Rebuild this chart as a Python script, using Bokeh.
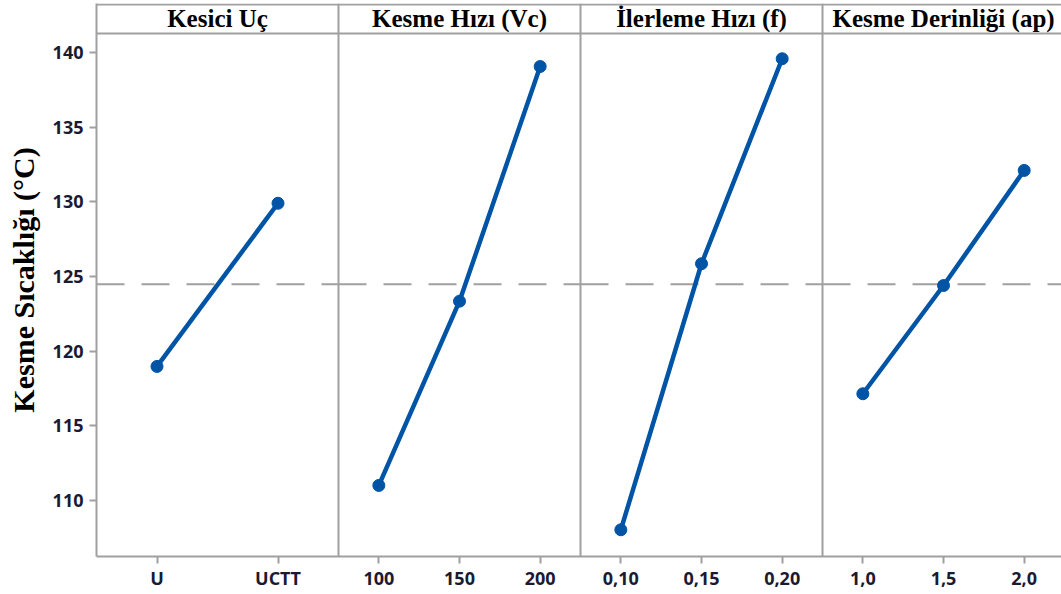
from bokeh.plotting import figure
from bokeh.models import Range1d, FixedTicker, Span, ColumnDataSource
from bokeh.core.properties import value
from bokeh.embed import file_html
from bokeh.resources import INLINE

# ---------------- data ----------------
factors = ["Kesici Uç", "Kesme Hızı (Vc)", "İlerleme Hızı (f)", "Kesme Derinliği (ap)"]
levels_kesici = ["U", "UCTT"]
levels_vc = ["100", "150", "200"]
levels_f = ["0,10", "0,15", "0,20"]
levels_ap = ["1,0", "1,5", "2,0"]
means_kesici = [118.97, 129.90]
means_vc = [111.00, 123.34, 139.06]
means_f = [108.03, 125.85, 139.58]
means_ap = [117.14, 124.39, 132.10]
grand_mean = 124.47
y_ticks = [110, 115, 120, 125, 130, 135, 140]
y_title = "Kesme Sıcaklığı (°C)"

all_levels = [levels_kesici, levels_vc, levels_f, levels_ap]
all_means = [means_kesici, means_vc, means_f, means_ap]

# ---------------- layout / style ----------------
PANEL = 12            # x units per panel (integer positions for 2 and 3 levels)
X_END = 47.85         # last panel clipped at window edge
Y_START, Y_END = 106.24, 143.28
HDR_TOP, HDR_BOTTOM = 143.215, 141.27
BLUE = "#0054A6"
BORDER = "#A0A0A0"
TICK_TXT = "#1a1a33"

p = figure(width=1061, height=594, output_backend="svg", toolbar_location=None,
           x_range=Range1d(0, X_END), y_range=Range1d(Y_START, Y_END),
           min_border_left=96, min_border_right=0, min_border_top=3, min_border_bottom=38,
           outline_line_color=None, background_fill_color="white")
p.grid.visible = False

# panel separators and header lines
for i in range(1, len(factors)):
    p.add_layout(Span(location=i * PANEL, dimension="height", line_color=BORDER, line_width=2))
p.add_layout(Span(location=HDR_BOTTOM, dimension="width", line_color=BORDER, line_width=2))
p.add_layout(Span(location=HDR_TOP, dimension="width", line_color=BORDER, line_width=2))

tick_pos = []
overrides = {}
for i, (levs, means) in enumerate(zip(all_levels, all_means)):
    n = len(levs)
    xs = [i * PANEL + (j + 0.5) * PANEL / n for j in range(n)]
    for x, lab in zip(xs, levs):
        k = int(round(x))
        tick_pos.append(k)
        overrides[k] = lab
    # grand mean reference line within this panel
    p.line([i * PANEL, (i + 1) * PANEL], [grand_mean, grand_mean],
           line_color=BORDER, line_width=2, line_dash="28 17")
    p.line(xs, means, line_color=BLUE, line_width=4.5)
    p.scatter(xs, means, size=12, color=BLUE)

hdr = ColumnDataSource(dict(x=[i * PANEL + PANEL / 2 for i in range(len(factors))],
                            y=[(HDR_TOP + HDR_BOTTOM) / 2] * len(factors),
                            t=factors))
p.text(x="x", y="y", text="t", source=hdr, text_font=value("Liberation Serif"),
       text_font_style="bold", text_font_size="25px", text_align="center",
       text_baseline="middle", text_color="black")

# axes
for ax in (p.xaxis[0], p.yaxis[0]):
    ax.axis_line_color = BORDER
    ax.axis_line_width = 2
    ax.major_tick_line_color = BORDER
    ax.major_tick_line_width = 2
    ax.major_tick_in = 0
    ax.major_tick_out = 7
    ax.minor_tick_line_color = None
    ax.major_label_text_font = "Open Sans"
    ax.major_label_text_font_style = "bold"
    ax.major_label_text_font_size = "18px"
    ax.major_label_text_color = TICK_TXT

p.xaxis.ticker = FixedTicker(ticks=tick_pos)
p.xaxis.major_label_overrides = overrides
p.xaxis.major_label_standoff = 2
p.yaxis.ticker = FixedTicker(ticks=y_ticks)
p.yaxis.major_label_standoff = 6
p.yaxis.axis_label = y_title
p.yaxis.axis_label_text_font = "Liberation Serif"
p.yaxis.axis_label_text_font_style = "bold"
p.yaxis.axis_label_text_font_size = "30px"
p.yaxis.axis_label_text_color = "black"
p.yaxis.axis_label_standoff = 10

open("out.html", "w").write(file_html(p, INLINE))
